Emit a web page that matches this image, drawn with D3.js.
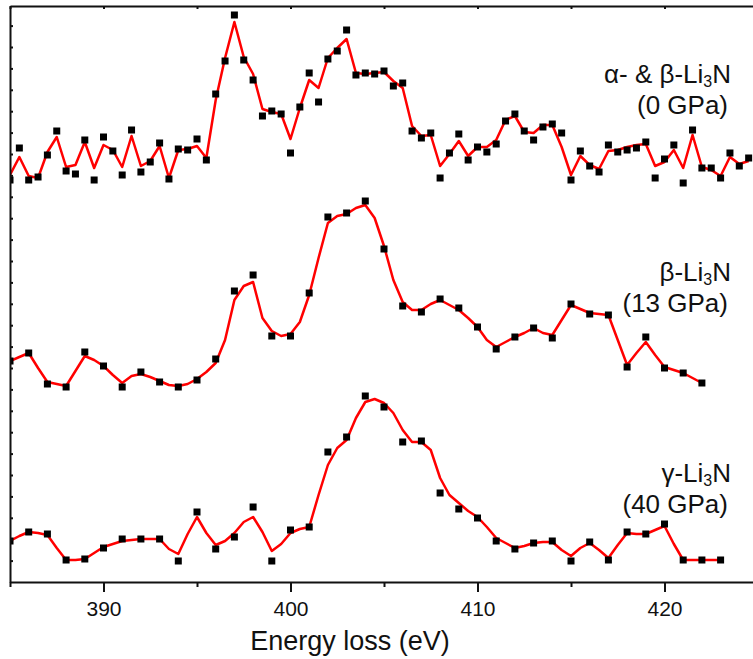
<!DOCTYPE html>
<html>
  <head>
    <title>Li3N N K-edge EELS</title>
    <script src="https://cdn.jsdelivr.net/npm/d3@7"></script>
    <style>
      body { margin: 0; background: #fff; }
      svg { font-family: "Liberation Sans", Arial, sans-serif; background: #fff; }
      .axis .domain { stroke: #111; stroke-width: 2px; }
      .axis .tick line { stroke: #111; stroke-width: 2px; }
      .axis .tick text { font-size: 21px; fill: #111; font-family: "Liberation Sans", Arial, sans-serif; }
      .axis__label { font-size: 27px; fill: #111; text-anchor: middle; }
      .spectrum-label { font-size: 26px; fill: #111; text-anchor: end; }
      .spectrum-label .sub { font-size: 16px; }
      .fit { fill: none; stroke: #ff0000; stroke-width: 2.5px; stroke-linejoin: round; }
      .point { fill: #000; }
    </style>
  </head>
  <body>
    <svg width="753" height="659"></svg>
    <script>
      // measured counts (black squares) and smoothed curve (red), stacked intensity (a.u.)
      // 0 GPa: 385 - 424.5 eV in 0.5 eV steps
      const counts0 = [
        402, 434, 402, 405, 427, 451, 411, 408, 442, 402,
        445, 431, 407, 452, 410, 420, 439, 403, 433, 432,
        443, 422, 488, 521, 567, 522, 502, 466, 471, 468,
        429, 475, 509, 480, 523, 531, 552, 507, 509, 508,
        511, 496, 499, 451, 444, 449, 404, 429, 448, 422,
        435, 430, 438, 461, 468, 451, 442, 455, 458, 449,
        402, 431, 416, 410, 437, 430, 432, 434, 440, 404,
        423, 437, 399, 452, 414, 414, 404, 429, 416, 424
      ];
      const smooth0 = [
        407, 425, 406, 404, 430, 445, 415, 417, 440, 414,
        437, 432, 415, 446, 416, 421, 436, 404, 432, 433,
        436, 424, 482, 524, 560, 525, 508, 473, 470, 468,
        443, 474, 502, 494, 524, 534, 543, 509, 508, 509,
        510, 501, 494, 456, 446, 447, 416, 428, 441, 426,
        435, 435, 442, 462, 466, 450, 449, 457, 457, 435,
        407, 426, 417, 413, 431, 432, 435, 437, 438, 416,
        420, 432, 414, 447, 415, 412, 406, 425, 418, 421
      ];
      // 13 GPa: counts 385 - 422 eV (1 eV), smooth curve in 0.5 eV steps
      const counts13 = [
        221, 229, 198, 195, 230, 216, 195, 210, 200, 195,
        202, 223, 291, 307, 246, 246, 289, 365, 369, 381,
        333, 276, 270, 283, 274, 255, 233, 245, 254, 244,
        278, 268, 267, 215, 245, 214, 209, 199
      ];
      const smooth13 = [
        221, 225, 229, 214, 200, 198, 196, 211, 226, 222,
        216, 207, 199, 206, 208, 205, 201, 197, 196, 198,
        203, 210, 219, 242, 282, 296, 300, 264, 251, 246,
        248, 260, 287, 324, 359, 366, 368, 374, 377, 364,
        336, 302, 280, 272, 272, 278, 282, 277, 272, 264,
        255, 242, 235, 240, 245, 249, 254, 249, 247, 262,
        277, 273, 269, 268, 267, 242, 217, 229, 240, 227,
        215, 212, 209, 204, 199
      ];
      // 40 GPa: counts 385 - 423 eV (1 eV), smooth curve in 0.5 eV steps
      const counts40 = [
        41, 50, 48, 22, 23, 34, 43, 43, 43, 21,
        70, 33, 45, 75, 21, 52, 55, 130, 145, 186,
        175, 140, 141, 89, 73, 64, 41, 33, 39, 41,
        21, 40, 22, 50, 48, 58, 22, 22, 22
      ];
      const smooth40 = [
        41, 46, 50, 49, 47, 34, 22, 22, 23, 29,
        35, 38, 41, 42, 43, 43, 43, 33, 28, 48,
        65, 49, 37, 41, 49, 60, 65, 50, 31, 38,
        49, 53, 55, 87, 117, 134, 142, 164, 180, 183,
        179, 169, 152, 140, 140, 132, 104, 87, 79, 71,
        65, 55, 44, 39, 34, 36, 39, 40, 40, 32,
        26, 34, 39, 32, 24, 37, 49, 48, 48, 52,
        56, 38, 22, 22, 22, 22, 22
      ];
      const xTicks = [385, 390, 395, 400, 405, 410, 415, 420, 425];
      const phases = [
        {prefix: "α- & β-", pressure: "(0 GPa)"},
        {prefix: "β-", pressure: "(13 GPa)"},
        {prefix: "γ-", pressure: "(40 GPa)"}
      ];

      const svg = d3.select("svg");
      const margin = {left: 10, top: 6, bottom: 582, right: 753};

      const xScale = d3.scaleLinear().domain([385, 425]).range([margin.left, 758]);
      const yScale = d3.scaleLinear().domain([0, 576]).range([margin.bottom, margin.top]);

      // energy grid of each record
      const grid = (start, step, values) => values.map((v, i) => ({e: start + i * step, v}));
      const spectra = [
        {pts: grid(385, 0.5, counts0), fit: grid(385, 0.5, smooth0)},
        {pts: grid(385, 1, counts13), fit: grid(385, 0.5, smooth13)},
        {pts: grid(385, 1, counts40), fit: grid(385, 0.5, smooth40)}
      ];

      svg.append("clipPath").attr("id", "plot-clip")
        .append("rect")
          .attr("x", margin.left).attr("y", margin.top)
          .attr("width", margin.right - margin.left)
          .attr("height", margin.bottom - margin.top);

      const plot = svg.append("g").attr("clip-path", "url(#plot-clip)");
      const line = d3.line().x(d => xScale(d.e)).y(d => yScale(d.v));

      spectra.forEach(s => {
        plot.append("path").datum(s.fit)
          .attr("class", "fit")
          .attr("d", line);
        plot.selectAll(null).data(s.pts)
          .enter().append("rect")
            .attr("class", "point")
            .attr("x", d => xScale(d.e) - 3.5)
            .attr("y", d => yScale(d.v) - 3.5)
            .attr("width", 7)
            .attr("height", 7);
      });

      // bottom axis: labelled majors every 10 eV, minors at 5
      const xAxisG = svg.append("g")
          .attr("class", "axis")
          .attr("transform", `translate(0, ${margin.bottom})`)
          .call(d3.axisBottom(xScale)
            .tickValues(xTicks)
            .tickSize(10)
            .tickSizeOuter(0)
            .tickPadding(9)
            .tickFormat(d => d % 10 === 0 ? d : ""));
      xAxisG.selectAll(".tick")
        .filter(d => d % 10 !== 0)
        .select("line").attr("y2", 5);

      // top frame, small inward ticks
      svg.append("g")
          .attr("class", "axis")
          .attr("transform", `translate(0, ${margin.top})`)
          .call(d3.axisBottom(xScale)
            .tickValues(xTicks)
            .tickSize(3)
            .tickSizeOuter(0)
            .tickFormat(""));

      // left axis, no labels
      svg.append("g")
          .attr("class", "axis")
          .attr("transform", `translate(${margin.left}, 0)`)
          .call(d3.axisRight(yScale)
            .tickValues(d3.range(21.4, 576, 21.4))
            .tickSize(3)
            .tickSizeOuter(0)
            .tickFormat(""));

      svg.append("text")
          .attr("class", "axis__label")
          .attr("x", 350)
          .attr("y", 650)
          .text("Energy loss (eV)");

      const labelY = [83, 281, 482];
      phases.forEach((p, i) => {
        const t = svg.append("text")
            .attr("class", "spectrum-label")
            .attr("x", 731)
            .attr("y", labelY[i]);
        t.append("tspan").text(p.prefix + "Li");
        t.append("tspan").attr("class", "sub").attr("dy", 4).text("3");
        t.append("tspan").attr("dy", -4).text("N");
        svg.append("text")
            .attr("class", "spectrum-label")
            .attr("x", 728)
            .attr("y", labelY[i] + 31)
            .text(p.pressure);
      });
    </script>
  </body>
</html>
